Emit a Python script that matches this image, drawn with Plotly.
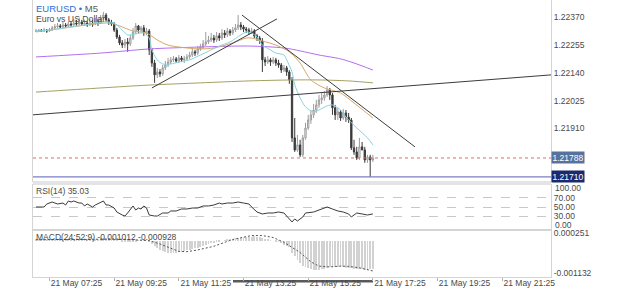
import plotly.graph_objects as go
import pandas as pd

# ---------------- data ----------------
times = pd.date_range("2021-05-21 07:00", periods=126, freq="5min")

open_ = [1.22312,1.22312,1.22316,1.22312,1.22316,1.22312,1.22316,1.22325,1.22329,1.22333,
         1.22329,1.22337,1.22333,1.22341,1.22337,1.22345,1.22341,1.22349,1.22341,1.22345,
         1.22337,1.22345,1.22341,1.22349,1.22345,1.22366,1.22378,1.22358,1.22349,1.22341,
         1.22316,1.22287,1.22263,1.22254,1.22267,1.22259,1.22283,1.22308,1.22333,1.22316,
         1.22325,1.22304,1.22312,1.22234,1.22180,1.22131,1.22143,1.22135,1.22160,1.22172,
         1.22184,1.22193,1.22197,1.22188,1.22201,1.22193,1.22197,1.22205,1.22213,1.22226,
         1.22221,1.22238,1.22246,1.22259,1.22267,1.22275,1.22283,1.22275,1.22292,1.22283,
         1.22304,1.22296,1.22312,1.22304,1.22316,1.22325,1.22337,1.22329,1.22320,1.22316,
         1.22308,1.22312,1.22292,1.22283,1.22271,1.22193,1.22184,1.22193,1.22184,1.22193,
         1.22180,1.22172,1.22151,1.22160,1.22143,1.22110,1.21871,1.21821,1.21842,1.21801,
         1.21871,1.21912,1.21945,1.21966,1.21986,1.22007,1.22028,1.22036,1.22048,1.22069,
         1.22048,1.21995,1.21966,1.21978,1.21953,1.21974,1.21957,1.21945,1.21830,1.21813,
         1.21788,1.21834,1.21821,1.21780,1.21792,1.21780]
high = [1.22320,1.22320,1.22320,1.22325,1.22320,1.22325,1.22333,1.22341,1.22345,1.22341,
        1.22349,1.22345,1.22353,1.22349,1.22362,1.22358,1.22366,1.22358,1.22358,1.22353,
        1.22362,1.22358,1.22366,1.22362,1.22378,1.22391,1.22386,1.22366,1.22358,1.22349,
        1.22325,1.22296,1.22275,1.22279,1.22283,1.22296,1.22325,1.22345,1.22337,1.22333,
        1.22337,1.22325,1.22320,1.22242,1.22193,1.22160,1.22155,1.22172,1.22188,1.22201,
        1.22205,1.22209,1.22205,1.22213,1.22209,1.22209,1.22217,1.22226,1.22238,1.22234,
        1.22250,1.22259,1.22275,1.22308,1.22292,1.22304,1.22296,1.22308,1.22304,1.22320,
        1.22316,1.22325,1.22320,1.22329,1.22341,1.22378,1.22349,1.22337,1.22329,1.22325,
        1.22325,1.22320,1.22300,1.22292,1.22283,1.22205,1.22209,1.22201,1.22205,1.22201,
        1.22193,1.22180,1.22172,1.22168,1.22151,1.22122,1.21953,1.21883,1.21863,1.21883,
        1.21933,1.21966,1.21986,1.22011,1.22028,1.22048,1.22056,1.22065,1.22085,1.22077,
        1.22056,1.22007,1.21995,1.21986,1.21990,1.21986,1.21974,1.21953,1.21863,1.21834,
        1.21871,1.21854,1.21834,1.21801,1.21801,1.21801]
low = [1.22308,1.22308,1.22308,1.22308,1.22304,1.22308,1.22312,1.22320,1.22325,1.22320,
       1.22325,1.22325,1.22329,1.22329,1.22333,1.22333,1.22337,1.22333,1.22333,1.22329,
       1.22333,1.22329,1.22337,1.22333,1.22341,1.22358,1.22349,1.22337,1.22333,1.22308,
       1.22279,1.22254,1.22242,1.22242,1.22226,1.22250,1.22275,1.22300,1.22304,1.22308,
       1.22292,1.22296,1.22213,1.22164,1.22098,1.22118,1.22122,1.22127,1.22151,1.22164,
       1.22176,1.22184,1.22180,1.22180,1.22184,1.22180,1.22188,1.22197,1.22205,1.22209,
       1.22213,1.22230,1.22238,1.22250,1.22259,1.22267,1.22263,1.22267,1.22271,1.22275,
       1.22283,1.22287,1.22292,1.22296,1.22308,1.22316,1.22316,1.22308,1.22304,1.22296,
       1.22300,1.22283,1.22271,1.22259,1.22143,1.22168,1.22176,1.22168,1.22176,1.22168,
       1.22160,1.22139,1.22143,1.22127,1.22094,1.21854,1.21813,1.21813,1.21792,1.21792,
       1.21863,1.21904,1.21929,1.21953,1.21974,1.21995,1.22011,1.22024,1.22040,1.22028,
       1.21966,1.21945,1.21945,1.21941,1.21945,1.21937,1.21933,1.21821,1.21801,1.21780,
       1.21780,1.21821,1.21768,1.21768,1.21710,1.21772]
close = [1.22312,1.22316,1.22312,1.22316,1.22312,1.22316,1.22325,1.22329,1.22333,1.22329,
         1.22337,1.22333,1.22341,1.22337,1.22345,1.22341,1.22349,1.22341,1.22345,1.22337,
         1.22345,1.22341,1.22349,1.22345,1.22366,1.22378,1.22358,1.22349,1.22341,1.22316,
         1.22287,1.22263,1.22254,1.22267,1.22259,1.22283,1.22308,1.22333,1.22316,1.22325,
         1.22304,1.22312,1.22234,1.22180,1.22131,1.22143,1.22135,1.22160,1.22172,1.22184,
         1.22193,1.22197,1.22188,1.22201,1.22193,1.22197,1.22205,1.22213,1.22226,1.22221,
         1.22238,1.22246,1.22259,1.22267,1.22275,1.22283,1.22275,1.22292,1.22283,1.22304,
         1.22296,1.22312,1.22304,1.22316,1.22325,1.22337,1.22329,1.22320,1.22316,1.22308,
         1.22312,1.22292,1.22283,1.22271,1.22193,1.22184,1.22193,1.22184,1.22193,1.22180,
         1.22172,1.22151,1.22160,1.22143,1.22110,1.21871,1.21821,1.21842,1.21801,1.21871,
         1.21912,1.21945,1.21966,1.21986,1.22007,1.22028,1.22036,1.22048,1.22069,1.22048,
         1.21995,1.21966,1.21978,1.21953,1.21974,1.21957,1.21945,1.21830,1.21813,1.21788,
         1.21834,1.21821,1.21780,1.21792,1.21780,1.21788]

# moving averages: (bar index, price)
ma_fast_idx = [0,5,13,20,24,27,29,32,34,37,40,42,43,45,47,50,53,57,61,65,68,72,76,78,80,82,84,87,89,92,93,95,96,98,100,103,105,108,110,113,115,119,123,125]
ma_fast_val = [1.22312,1.22316,1.22329,1.22341,1.22349,1.22349,1.22345,1.22316,1.22296,1.22300,1.22304,1.22283,1.22234,1.22193,1.22176,1.22176,1.22184,1.22193,1.22213,1.22234,1.22250,1.22267,1.22296,1.22308,1.22304,1.22287,1.22254,1.22234,1.22221,1.22213,1.22193,1.22143,1.22090,1.22036,1.21999,1.21978,1.21986,1.22003,1.22007,1.21986,1.21957,1.21912,1.21871,1.21842]
ma_mid_idx = [0,11,27,31,36,41,45,49,56,61,66,73,78,80,84,89,94,98,102,107,113,118,125]
ma_mid_val = [1.22308,1.22325,1.22345,1.22333,1.22312,1.22304,1.22275,1.22254,1.22242,1.22238,1.22242,1.22263,1.22283,1.22283,1.22271,1.22254,1.22226,1.22180,1.22110,1.22077,1.22056,1.22015,1.21953]
ma_slow_idx = [0,24,42,61,79,92,98,105,113,118,125]
ma_slow_val = [1.22205,1.22221,1.22238,1.22246,1.22250,1.22242,1.22230,1.22213,1.22197,1.22180,1.22151]
ma_long_idx = [0,24,42,61,79,95,105,116,125]
ma_long_val = [1.22060,1.22077,1.22089,1.22098,1.22106,1.22110,1.22110,1.22106,1.22098]

# trend lines (time, price)
trend_a_t = ["2021-05-21 06:54", "2021-05-21 22:56"]
trend_a_p = [1.21966, 1.22131]
trend_b_t = ["2021-05-21 10:35", "2021-05-21 14:27"]
trend_b_p = [1.22077, 1.22362]
trend_c_t = ["2021-05-21 13:22", "2021-05-21 18:43"]
trend_c_p = [1.22378, 1.21834]

last_price = 1.21788
ask_price = 1.21710
price_ticks = [1.22370, 1.22255, 1.22140, 1.22025, 1.21910]

# RSI(14): (bar index, value)
rsi_idx = [0,3,4,6,7,8,10,11,12,13,14,16,17,18,19,21,22,24,25,26,27,29,30,32,33,34,36,37,38,39,40,41,42,44,45,47,49,50,52,54,56,58,60,62,64,66,68,69,71,73,75,77,79,80,82,84,86,88,90,92,93,95,96,97,99,100,103,106,108,110,112,114,116,117,119,121,123,125]
rsi_val = [50,50,56.5,60.8,58.6,56.5,58.6,54.3,63,60.8,63,58.6,58.6,52.2,56.5,50,54.3,60,63,54.3,54.3,47.8,39.2,32.7,30.5,37,52.2,43.5,47.8,45.7,52.2,47.8,32.7,30.5,30.5,37,37,41.4,41.4,45.7,45.7,47.8,47.8,52.2,52.2,54.3,58.6,56.5,58.6,58.6,60.8,58.6,56.5,50,39.2,34.9,37,37,39.2,37,30.5,17.6,24.1,19.7,28.4,37,39.2,45.7,50,45.7,41.4,39.2,34.9,28.4,37,34.9,32.7,35.03]

# MACD(24;52;9) main (histogram), per bar, in 1e-6
macd_main = [30,32,30,32,35,35,38,42,45,46,
             50,50,52,52,55,55,58,57,58,56,
             57,56,58,57,65,78,80,76,70,55,
             30,0,-25,-40,-52,-50,-40,-20,-10,-5,
             -5,0,-40,-110,-200,-270,-330,-375,-410,-430,
             -440,-440,-430,-415,-395,-370,-345,-320,-295,-270,
             -245,-220,-190,-160,-130,-100,-75,-50,-25,0,
             15,30,45,60,75,90,105,120,130,140,
             145,150,140,120,80,50,30,10,0,-30,
             -60,-100,-140,-180,-240,-420,-560,-690,-800,-880,
             -940,-980,-1010,-1030,-1040,-1030,-1010,-990,-960,-940,
             -930,-930,-935,-940,-945,-950,-955,-975,-990,-1005,
             -1010,-1015,-1020,-1025,-1015,-1012]
signal_idx = [0,20,30,36,42,46,50,53,56,60,66,73,80,84,88,92,98,102,105,109,113,116,120,125]
signal_val = [30,45,55,30,0,-120,-280,-380,-390,-330,-200,40,179,179,110,-60,-420,-750,-900,-930,-900,-910,-960,-1071]

x_ticks = ["2021-05-21 07:25", "2021-05-21 09:25", "2021-05-21 11:25", "2021-05-21 13:25",
           "2021-05-21 15:25", "2021-05-21 17:25", "2021-05-21 19:25", "2021-05-21 21:25"]
x_range = ["2021-05-21 06:54:26", "2021-05-21 22:55:26"]

# ---------------- figure ----------------
W, H = 625, 289
def fy(p):
    return 1 - p / H

fig = go.Figure()

fig.add_trace(go.Candlestick(
    x=times, open=open_, high=high, low=low, close=close,
    increasing=dict(line=dict(color="#9c9c9c", width=1), fillcolor="#f7f7f7"),
    decreasing=dict(line=dict(color="#3a3a3a", width=1), fillcolor="#3a3a3a"),
    whiskerwidth=0, xaxis="x", yaxis="y", hoverinfo="skip"))

def ma(idx, val, color):
    fig.add_trace(go.Scatter(x=[times[i] for i in idx], y=val, mode="lines",
                             line=dict(color=color, width=1, shape="spline", smoothing=0.8),
                             xaxis="x", yaxis="y", hoverinfo="skip"))

ma(ma_long_idx, ma_long_val, "#a3a063")
ma(ma_slow_idx, ma_slow_val, "#b36ef0")
ma(ma_mid_idx, ma_mid_val, "#d6a866")
ma(ma_fast_idx, ma_fast_val, "#84d4e2")

for tt, pp in [(trend_a_t, trend_a_p), (trend_b_t, trend_b_p), (trend_c_t, trend_c_p)]:
    fig.add_trace(go.Scatter(x=pd.to_datetime(tt), y=pp, mode="lines",
                             line=dict(color="#3c3c3c", width=1), xaxis="x", yaxis="y",
                             hoverinfo="skip"))

# RSI
fig.add_trace(go.Scatter(x=[times[i] for i in rsi_idx], y=rsi_val, mode="lines",
                         line=dict(color="#3a3a3a", width=1), xaxis="x2", yaxis="y2",
                         hoverinfo="skip"))

# MACD
fig.add_trace(go.Bar(x=times, y=[v * 1e-6 for v in macd_main], width=95000,
                     marker=dict(color="#d2d2d2", line=dict(width=0)),
                     xaxis="x3", yaxis="y3", hoverinfo="skip"))
fig.add_trace(go.Scatter(x=[times[i] for i in signal_idx], y=[v * 1e-6 for v in signal_val],
                         mode="lines", line=dict(color="#555555", width=1, dash="2px,2px"),
                         xaxis="x3", yaxis="y3", hoverinfo="skip"))

xdom = [33 / W, 551 / W]
axfont = dict(family="Liberation Sans, Arial, sans-serif", size=8.5, color="#4a4a4a")
common_x = dict(domain=xdom, showgrid=False, zeroline=False, showline=True, mirror=True,
                linecolor="#d4d4d4", linewidth=1, automargin=False)
common_y = dict(showgrid=False, zeroline=False, showline=True, mirror=True,
                linecolor="#d4d4d4", linewidth=1, side="right", ticks="",
                tickfont=axfont, automargin=False)

fig.update_layout(
    width=W, height=H, margin=dict(l=0, r=0, t=0, b=0),
    template="none", paper_bgcolor="white", plot_bgcolor="white", showlegend=False,
    bargap=0,
    xaxis=dict(common_x, anchor="y", range=x_range, type="date", showticklabels=False,
               rangeslider=dict(visible=False)),
    yaxis=dict(common_y, anchor="x", domain=[fy(181), 1.0], range=[1.21693, 1.22440],
               tickvals=price_ticks, tickformat=".5f"),
    xaxis2=dict(common_x, anchor="y2", range=x_range, type="date", showticklabels=False),
    yaxis2=dict(common_y, anchor="x2", domain=[fy(230), fy(185)], range=[0.27, 97.57],
                tickvals=[70, 50, 30], ticktext=["70.00", "50.00", "30.00"],
                showgrid=True, gridcolor="#c8c8c8", gridwidth=0.7, griddash="dash"),
    xaxis3=dict(common_x, anchor="y3", range=x_range, type="date",
                tickvals=x_ticks, tickformat="%d %b %H:%M", ticks="outside", ticklen=3,
                tickcolor="#b0b0b0", ticklabelshift=27, ticklabelstandoff=-5,
                tickfont=axfont),
    yaxis3=dict(common_y, anchor="x3", domain=[fy(277), fy(230)], range=[-0.001285, 0.000375],
                tickvals=[0.000251, -0.001132], ticktext=["0.000251", "-0.001132"]),
)

shapes = [
    dict(type="line", xref="x domain", yref="y", x0=0, x1=1, y0=last_price, y1=last_price,
         line=dict(color="#e26a6a", width=1, dash="dot")),
    dict(type="line", xref="x domain", yref="y", x0=0, x1=1, y0=ask_price, y1=ask_price,
         line=dict(color="#7d7fc6", width=1.2)),
    dict(type="rect", xref="paper", yref="paper", x0=33 / W, x1=551 / W, y0=fy(185), y1=fy(181),
         fillcolor="#e4e4e4", line=dict(width=0)),
    dict(type="rect", xref="paper", yref="paper", x0=233 / W, x1=373 / W, y0=fy(282.5), y1=fy(280),
         fillcolor="#5a5a5a", line=dict(width=0), layer="below"),
]
fig.update_layout(shapes=shapes)

ann = [
    dict(xref="paper", yref="paper", x=34 / W, y=fy(1.5), xanchor="left", yanchor="top",
         text="<span style='color:#2e6fd8'>EURUSD</span> <span style='color:#2e6fd8'>•</span> <span style='color:#5a5a5a'>M5</span>",
         showarrow=False, font=dict(family="Liberation Sans, Arial", size=9.5)),
    dict(xref="paper", yref="paper", x=34 / W, y=fy(11.5), xanchor="left", yanchor="top",
         text="Euro vs US Dollar", showarrow=False,
         font=dict(family="Liberation Sans, Arial", size=8.7, color="#4a4a4a")),
    dict(xref="paper", yref="paper", x=34 / W, y=fy(190.5), xanchor="left", yanchor="middle",
         text="RSI(14) 35.03", showarrow=False, font=axfont),
    dict(xref="paper", yref="paper", x=34 / W, y=fy(236.5), xanchor="left", yanchor="middle",
         text="MACD(24;52;9) -0.001012 -0.000928", showarrow=False, font=axfont),
    dict(xref="paper", yref="paper", x=553 / W, y=fy(188.3), xanchor="left", yanchor="middle",
         text="100.00", showarrow=False, font=axfont),
    dict(xref="paper", yref="paper", x=553 / W, y=fy(225.3), xanchor="left", yanchor="middle",
         text="0.00", showarrow=False, font=axfont),
    dict(xref="paper", yref="y", x=551 / W, y=last_price, xanchor="left", yanchor="middle",
         text="1.21788", showarrow=False, bgcolor="#58729e", borderpad=0.5,
         font=dict(family="Liberation Sans, Arial", size=8.5, color="white")),
    dict(xref="paper", yref="y", x=551 / W, y=ask_price, xanchor="left", yanchor="middle",
         text="1.21710", showarrow=False, bgcolor="#1b2a6e", borderpad=0.5,
         font=dict(family="Liberation Sans, Arial", size=8.5, color="white")),
]
fig.update_layout(annotations=ann)

fig.write_html("out.html")
